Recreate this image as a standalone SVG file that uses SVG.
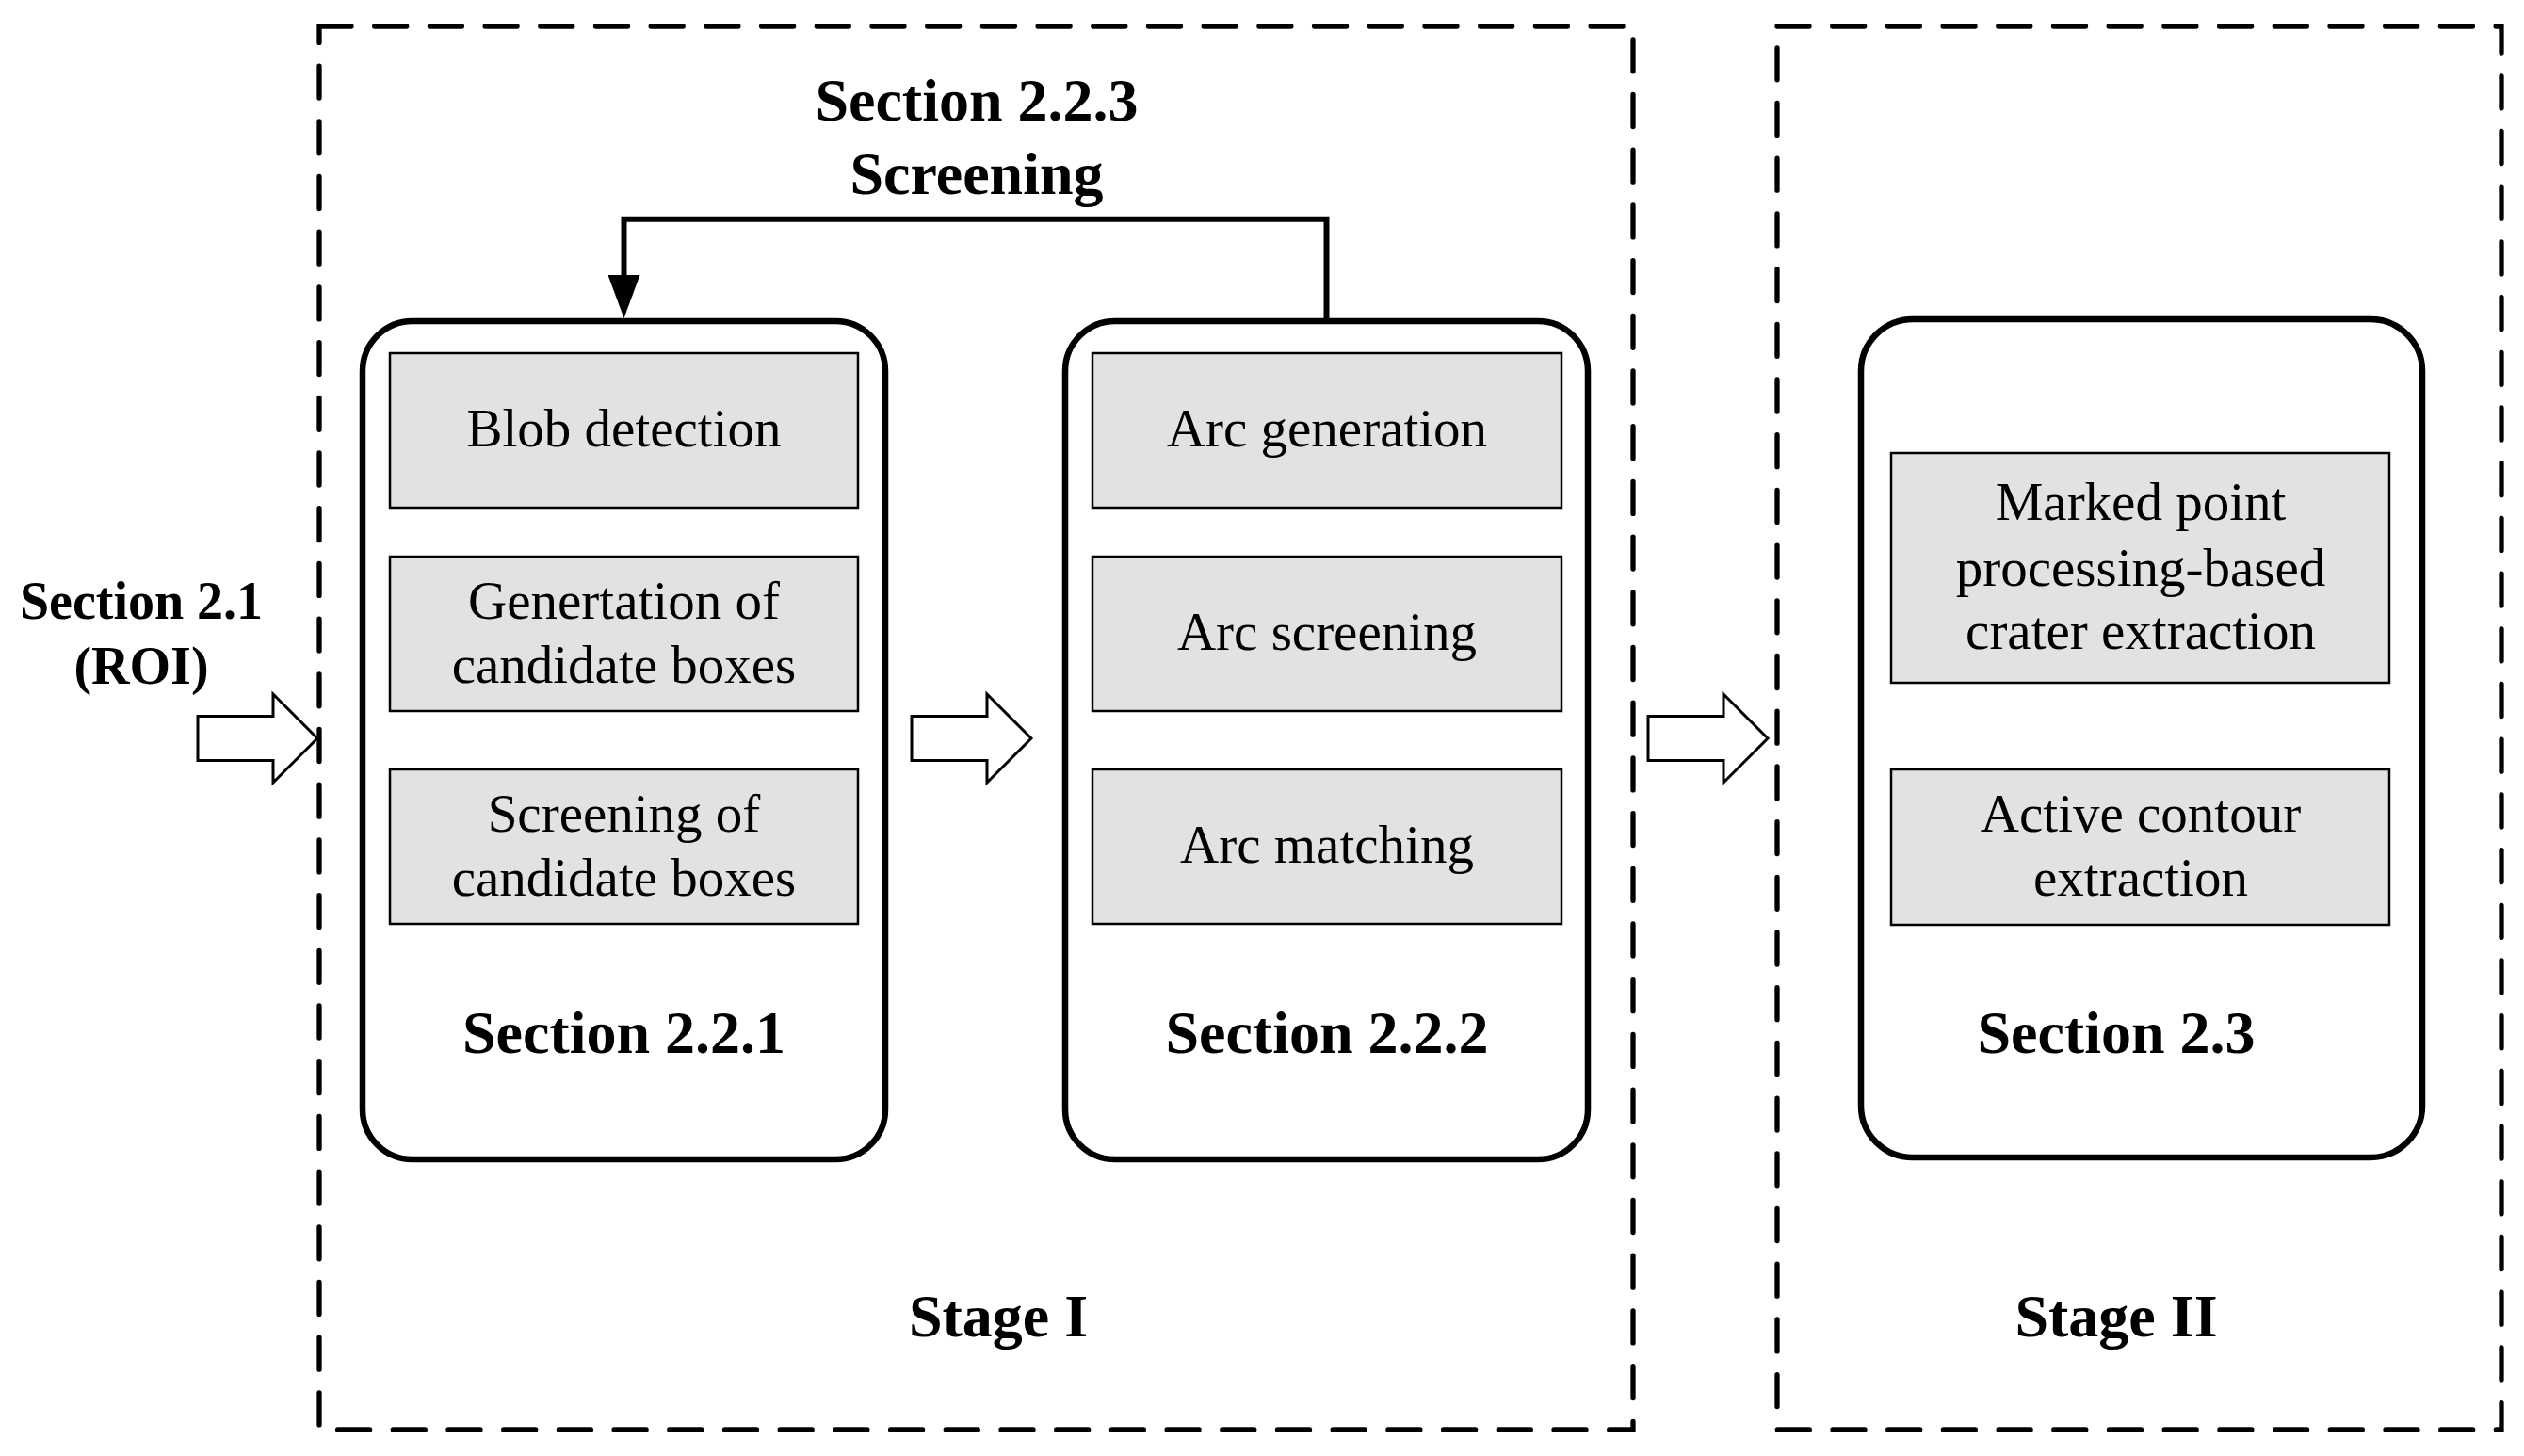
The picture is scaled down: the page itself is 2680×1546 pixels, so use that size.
<svg xmlns="http://www.w3.org/2000/svg" width="2680" height="1546" viewBox="0 0 2680 1546">
<style>
.stage{fill:none;stroke:#000;stroke-width:5.3;stroke-dasharray:34 24.7;stroke-linecap:round}
.node{fill:#fff;stroke:#000;stroke-width:6.5}
.box{fill:#e2e2e2;stroke:#000;stroke-width:2.5}
.t{font-family:"Liberation Serif","Times New Roman",serif;font-size:57px;fill:#000;text-anchor:middle}
.b{font-family:"Liberation Serif","Times New Roman",serif;font-size:64px;font-weight:bold;fill:#000;text-anchor:middle}
.blk{fill:#fff;stroke:#000;stroke-width:3;stroke-linejoin:miter}
.conn{fill:none;stroke:#000;stroke-width:6}
</style>
<defs>
<marker id="ah" viewBox="0 0 46 34" refX="0" refY="17" markerWidth="46" markerHeight="34" markerUnits="userSpaceOnUse" orient="auto">
<path d="M0,0 L46,17 L0,34 Z" fill="#000"/>
</marker>
<path id="blockArrow" d="M0,-23.5 H80 V-47 L127,0 L80,47 V23.5 H0 Z"/>
</defs>
<rect width="2680" height="1546" fill="#fff"/>

<g id="stage1">
<rect class="stage" x="339" y="28" width="1395" height="1490"/>
<text class="b" x="1060" y="1419">Stage I</text>
</g>
<g id="stage2">
<rect class="stage" x="1887" y="28" width="769" height="1490"/>
<text class="b" x="2247" y="1419">Stage II</text>
</g>

<g id="input-label">
<text class="b" x="150" y="657" style="font-size:56px">Section 2.1</text>
<text class="b" x="150" y="726" style="font-size:56px">(ROI)</text>
</g>

<g id="screening-label">
<text class="b" x="1037" y="128">Section 2.2.3</text>
<text class="b" x="1037" y="206">Screening</text>
</g>

<g id="node-221">
<rect class="node" x="385" y="341" width="555" height="890" rx="53" ry="53"/>
<rect class="box" x="414" y="375" width="497" height="164"/>
<text class="t" x="662.5" y="474">Blob detection</text>
<rect class="box" x="414" y="591" width="497" height="164"/>
<text class="t" x="662.5" y="657">Genertation of</text>
<text class="t" x="662.5" y="725">candidate boxes</text>
<rect class="box" x="414" y="817" width="497" height="164"/>
<text class="t" x="662.5" y="883">Screening of</text>
<text class="t" x="662.5" y="951">candidate boxes</text>
<text class="b" x="662.5" y="1118">Section 2.2.1</text>
</g>

<g id="node-222">
<rect class="node" x="1131" y="341" width="555" height="890" rx="53" ry="53"/>
<rect class="box" x="1160" y="375" width="498" height="164"/>
<text class="t" x="1409" y="474">Arc generation</text>
<rect class="box" x="1160" y="591" width="498" height="164"/>
<text class="t" x="1409" y="690">Arc screening</text>
<rect class="box" x="1160" y="817" width="498" height="164"/>
<text class="t" x="1409" y="916">Arc matching</text>
<text class="b" x="1409" y="1118">Section 2.2.2</text>
</g>

<g id="node-23">
<rect class="node" x="1976" y="339" width="596" height="890" rx="55" ry="55"/>
<rect class="box" x="2008" y="481" width="529" height="244"/>
<text class="t" x="2273" y="552">Marked point</text>
<text class="t" x="2273" y="622">processing-based</text>
<text class="t" x="2273" y="689">crater extraction</text>
<rect class="box" x="2008" y="817" width="529" height="165"/>
<text class="t" x="2273" y="883">Active contour</text>
<text class="t" x="2273" y="951">extraction</text>
<text class="b" x="2247" y="1118">Section 2.3</text>
</g>

<g id="connectors">
<path class="conn" d="M1408.5,341 V232.7 H662.5 V292" marker-end="url(#ah)"/>
<use href="#blockArrow" class="blk" transform="translate(210,784)"/>
<use href="#blockArrow" class="blk" transform="translate(968,784)"/>
<use href="#blockArrow" class="blk" transform="translate(1750,784)"/>
</g>
</svg>
